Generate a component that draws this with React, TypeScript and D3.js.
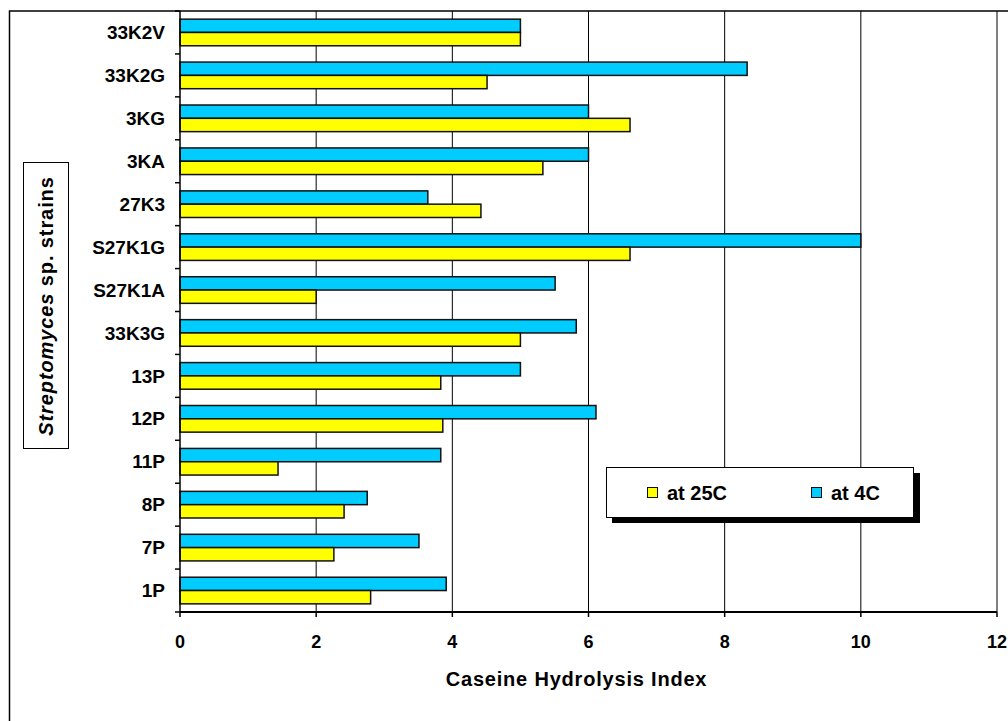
import React from "react";
import * as d3 from "d3";

const strains = ["1P", "7P", "8P", "11P", "12P", "13P", "33K3G", "S27K1A", "S27K1G", "27K3", "3KA", "3KG", "33K2G", "33K2V"];
const at25C = [2.8, 2.26, 2.41, 1.44, 3.86, 3.83, 5.0, 2.0, 6.61, 4.42, 5.33, 6.61, 4.51, 5.0];
const at4C = [3.91, 3.51, 2.75, 3.83, 6.11, 5.0, 5.82, 5.51, 10.0, 3.64, 6.0, 6.0, 8.33, 5.0];
const xTicks = [0, 2, 4, 6, 8, 10, 12];
const seriesNames = ["at 25C", "at 4C"];
const colors = ["#FFFF00", "#00CCFF"];

export default function App() {
  const left = 180, right = 997, top = 11, bottom = 612;
  const x = d3.scaleLinear().domain([0, 12]).range([left, right]);
  const y = d3.scaleBand<string>().domain([...strains].reverse()).range([top, bottom]).paddingInner(0.38).paddingOuter(0.19);
  const inner = d3.scaleBand<string>().domain(["4C", "25C"]).range([0, y.bandwidth()]);
  const font = "Liberation Sans, Arial, sans-serif";
  const step = y.step();
  return (
    <svg width={1008} height={721} style={{ position: "absolute", left: 0, top: 0, background: "#fff" }} fontFamily={font}>
      <rect x={9.5} y={11} width={1010} height={730} fill="#fff" stroke="#000" strokeWidth={1.5} />
      {xTicks.slice(1).map((t) => (
        <line key={t} x1={x(t)} x2={x(t)} y1={top} y2={bottom} stroke="#000" strokeWidth={1} />
      ))}
      {strains.map((s, i) => {
        const y0 = y(s)!;
        return (
          <g key={s}>
            <rect x={x(0)} y={y0 + inner("4C")!} width={x(at4C[i]) - x(0)} height={inner.bandwidth()} fill={colors[1]} stroke="#111" strokeWidth={1.5} />
            <rect x={x(0)} y={y0 + inner("25C")!} width={x(at25C[i]) - x(0)} height={inner.bandwidth()} fill={colors[0]} stroke="#111" strokeWidth={1.5} />
            <text x={165} y={y0 + y.bandwidth() / 2} dy="0.35em" textAnchor="end" fontWeight="bold" fontSize={19}>{s}</text>
          </g>
        );
      })}
      {d3.range(strains.length + 1).map((k) => (
        <line key={k} x1={left - 5} x2={left} y1={top + k * step} y2={top + k * step} stroke="#000" strokeWidth={1.5} />
      ))}
      <line x1={left} x2={left} y1={top} y2={bottom} stroke="#000" strokeWidth={1.5} />
      <line x1={left} x2={right} y1={bottom} y2={bottom} stroke="#000" strokeWidth={2} />
      {xTicks.map((t) => (
        <g key={t}>
          <line x1={x(t)} x2={x(t)} y1={bottom} y2={bottom + 5} stroke="#000" strokeWidth={1.5} />
          <text x={x(t)} y={648} textAnchor="middle" fontWeight="bold" fontSize={18}>{t}</text>
        </g>
      ))}
      <text x={(left + right) / 2 - 12} y={686} textAnchor="middle" fontWeight="bold" fontSize={20} letterSpacing={0.8}>Caseine Hydrolysis Index</text>
      <rect x={23.5} y={162.5} width={45} height={286} fill="#fff" stroke="#000" strokeWidth={1} />
      <text transform="translate(53,306) rotate(-90)" textAnchor="middle" fontWeight="bold" fontSize={20} letterSpacing={0.9}>
        <tspan fontStyle="italic">Streptomyces</tspan> sp. strains
      </text>
      <rect x={612} y={473} width={308} height={50} fill="#000" />
      <rect x={606.5} y={467.5} width={307} height={50} fill="#fff" stroke="#000" strokeWidth={1} />
      {seriesNames.map((n, i) => {
        const lx = i === 0 ? 647 : 811;
        return (
          <g key={n}>
            <rect x={lx + 0.5} y={487.5} width={10} height={10} fill={colors[i]} stroke="#111" strokeWidth={1} />
            <text x={lx + 20} y={500} fontWeight="bold" fontSize={20}>{n}</text>
          </g>
        );
      })}
    </svg>
  );
}
